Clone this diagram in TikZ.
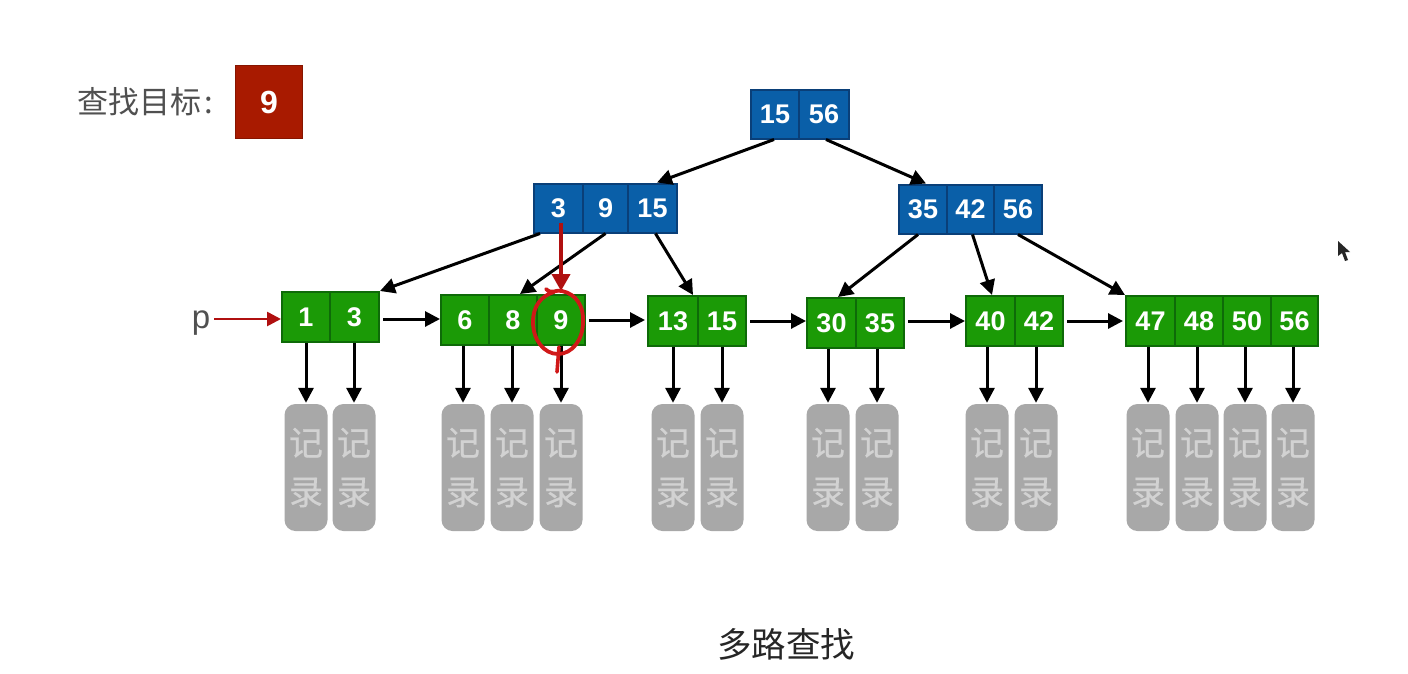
\documentclass[tikz,border=0pt]{standalone}
\usepackage{fontspec}
\setmainfont{Liberation Sans}
\newfontfamily\cjk{Noto Sans CJK SC}
\newfontfamily\cjkm[FakeBold=0.5]{Noto Sans CJK SC}
\usetikzlibrary{arrows.meta,calc}
\definecolor{gfill}{HTML}{1B9A06}
\definecolor{gline}{HTML}{0E6A08}
\definecolor{bfill}{HTML}{0A5FA8}
\definecolor{bline}{HTML}{0A3F78}
\definecolor{recgray}{HTML}{A8A8A8}
\definecolor{rectext}{HTML}{D2D2D2}
\definecolor{redbox}{HTML}{A81A00}
\definecolor{redline}{HTML}{B01010}
\definecolor{ringred}{HTML}{D01818}
\definecolor{txtgray}{HTML}{505050}
\tikzset{
  cellbase/.style={draw,line width=2pt,inner sep=0pt,text=white,font=\fontsize{27}{27}\selectfont\bfseries,anchor=west},
  gcell/.style={cellbase,fill=gfill,draw=gline,minimum height=50pt},
  bcell/.style={cellbase,fill=bfill,draw=bline,minimum height=49pt},
  recbox/.style={fill=recgray,rounded corners=11pt,minimum width=43pt,minimum height=127pt,inner sep=0pt,text=rectext,align=center,font=\fontsize{34}{49}\selectfont\cjkm},
  arr/.style={-{Triangle[length=15pt,width=15pt]},line width=3pt,black},
  redarr/.style={-{Triangle[length=14pt,width=14pt]},line width=2.6pt,redline},
}
\newcommand{\cell}[6]{\node[#1,minimum width=#4pt] (#2) at (#3,#5) {\raisebox{-1pt}{#6}};}
\begin{document}
\begin{tikzpicture}[x=1pt,y=-1pt]
\useasboundingbox (0,0) rectangle (1408,673);
\fill[white] (0,0) rectangle (1408,673);

% target
\node[text=txtgray,font=\fontsize{31}{31}\selectfont\cjk,anchor=west,inner sep=0pt] (lbl) at (77,102) {查找目标\kern3pt:};
\node[fill=redbox,draw=redbox!80!black,line width=1pt,minimum width=67pt,minimum height=73pt,inner sep=0pt,text=white,font=\fontsize{32}{32}\selectfont\bfseries] (tgt) at (269,102) {9};

% blue nodes
\cell{bcell}{ra}{750}{48}{114}{15}
\cell{bcell}{rb}{798}{50}{114}{56}
\cell{bcell}{ba}{533}{49}{208}{3}
\cell{bcell}{bb}{582}{45}{208}{9}
\cell{bcell}{bc}{627}{49}{208}{15}
\cell{bcell}{bd}{898}{48}{209}{35}
\cell{bcell}{be}{946}{47}{209}{42}
\cell{bcell}{bf}{993}{48}{209}{56}

% green leaves
\cell{gcell}{la}{281}{48}{317}{1}
\cell{gcell}{lb}{329}{49}{317}{3}
\cell{gcell}{lc}{440}{48}{320}{6}
\cell{gcell}{ld}{488}{48}{320}{8}
\cell{gcell}{le}{536}{48}{320}{9}
\cell{gcell}{lf}{647}{50}{321}{13}
\cell{gcell}{lg}{697}{48}{321}{15}
\cell{gcell}{lh}{806}{49}{323}{30}
\cell{gcell}{li}{855}{48}{323}{35}
\cell{gcell}{lj}{965}{49}{321}{40}
\cell{gcell}{lk}{1014}{48}{321}{42}
\cell{gcell}{ll}{1125}{49}{321}{47}
\cell{gcell}{lm}{1174}{48}{321}{48}
\cell{gcell}{ln}{1222}{48}{321}{50}
\cell{gcell}{lo}{1270}{47}{321}{56}

% records + vertical arrows
\foreach \nm/\src/\xx in {a/la/306,b/lb/354,c/lc/463,d/ld/512,e/le/561,f/lf/673,g/lg/722,h/lh/828,i/li/877,j/lj/987,k/lk/1036,l/ll/1148,m/lm/1197,n/ln/1245,o/lo/1293}{
  \node[recbox] (rec\nm) at (\xx,467.5) {记\\录};
  \draw[arr] (rec\nm.north |- \src.south) -- ([yshift=1pt]rec\nm.north);
}

% tree edges
\draw[arr] ([xshift=-1pt]ra.south) -- ([xshift=-21pt]bc.north east);
\draw[arr] ([xshift=2pt]rb.south) -- ([xshift=3pt]bd.north);
\draw[arr] ([xshift=7pt]ba.south west) -- (lb.north east);
\draw[arr] (bb.south) -- ([xshift=32pt]ld.north west);
\draw[arr] ([xshift=3pt]bc.south) -- ([xshift=-6pt]lf.north east);
\draw[arr] ([xshift=20pt]bd.south west) -- ([xshift=32pt]lh.north west);
\draw[arr] ([xshift=2pt]be.south) -- ([xshift=-24pt]lj.north east);
\draw[arr] ([xshift=25pt]bf.south west) -- (ll.north west);

% leaf links
\draw[arr] ([xshift=3pt,yshift=-2pt]lb.east) -- ([yshift=-2pt]lb.east -| lc.west);
\draw[arr] ([xshift=3pt]le.east) -- ([xshift=-2pt]le.east -| lf.west);
\draw[arr] ([xshift=3pt]lg.east) -- (lg.east -| lh.west);
\draw[arr] ([xshift=3pt,yshift=2pt]li.east) -- ([yshift=2pt]li.east -| lj.west);
\draw[arr] ([xshift=3pt]lk.east) -- ([xshift=-2pt]lk.east -| ll.west);

% p pointer
\node[text=txtgray,font=\fontsize{33}{33}\selectfont,inner sep=0pt] (p) at (201,323) {p};
\coordinate (pstart) at (214,319);
\draw[redarr] (pstart) -- (pstart -| la.west);

% red annotations
\draw[-{Triangle[length=17pt,width=18pt]},line width=4pt,redline] ([yshift=11pt]le.center |- ba.south) -- ([yshift=3pt]le.north);
\draw[ringred,line width=3.8pt,line cap=round] (546,289)
  .. controls (552,295) and (556,289) .. (562,291)
  .. controls (576,294) and (584,306) .. (583,322)
  .. controls (583,340) and (572,354) .. (558,354)
  .. controls (544,354) and (533,340) .. (533,322)
  .. controls (533,306) and (541,296) .. (554,292);
\draw[ringred,line width=3.6pt,line cap=round] (559,347) -- (557,372);

% cursor
\fill[black!85] (1338,241) -- (1338,256) -- (1342,253) -- (1345,261) -- (1348,260) -- (1345,252) -- (1350,252) -- cycle;

% caption
\node[text=black!85,font=\fontsize{34.5}{35}\selectfont\cjk,inner sep=0pt] (cap) at (786,644) {多路查找};
\end{tikzpicture}
\end{document}
